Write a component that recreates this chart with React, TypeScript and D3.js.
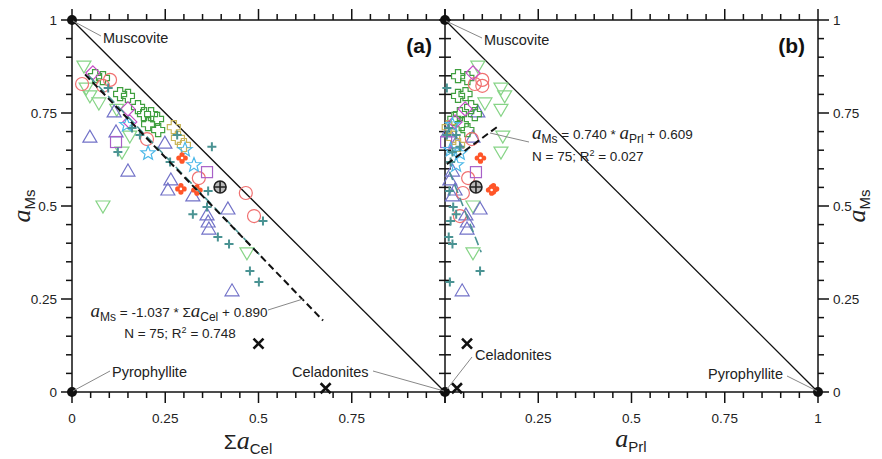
import React from "react";
import * as d3 from "d3";

// ---- data: [ΣaCel, aPrl, aMs] ----
const greenTri: number[][] = [
  [0.032, 0.088, 0.876], [0.038, 0.15, 0.817], [0.072, 0.107, 0.777], [0.048, 0.16, 0.796],
  [0.134, 0.15, 0.645], [0.155, 0.155, 0.688], [0.083, 0.075, 0.5], [0.469, 0.075, 0.374],
  [0.12, 0.15, 0.76],
];
const redCircle: number[][] = [
  [0.027, 0.08, 0.828], [0.083, 0.1, 0.823], [0.102, 0.1, 0.839], [0.201, 0.072, 0.68],
  [0.34, 0.062, 0.575], [0.466, 0.048, 0.535], [0.488, 0.04, 0.473],
];
const purpleSquare: number[][] = [[0.118, 0.003, 0.672], [0.362, 0.083, 0.591]];
const magentaDiamond: number[][] = [[0.056, 0.075, 0.858], [0.15, 0.054, 0.761], [0.155, 0.027, 0.726]];
const greenCross: number[][] = [
  [0.062, 0.035, 0.849], [0.083, 0.06, 0.844], [0.129, 0.055, 0.801], [0.15, 0.035, 0.796],
  [0.177, 0.07, 0.766], [0.193, 0.04, 0.747], [0.212, 0.08, 0.747], [0.228, 0.025, 0.734],
  [0.204, 0.045, 0.72], [0.231, 0.06, 0.704],
];
const blueTri: number[][] = [
  [0.048, 0.075, 0.685], [0.113, 0.088, 0.753], [0.118, 0.008, 0.699], [0.249, 0.03, 0.669],
  [0.15, 0.02, 0.594], [0.265, 0.013, 0.57], [0.257, 0.027, 0.543], [0.324, 0.02, 0.527],
  [0.418, 0.094, 0.492], [0.362, 0.056, 0.476], [0.365, 0.06, 0.457], [0.367, 0.059, 0.438],
  [0.429, 0.046, 0.272],
];
const cyanStar: number[][] = [[0.147, 0.02, 0.718], [0.204, 0.04, 0.642], [0.303, 0.015, 0.651], [0.327, 0.03, 0.61]];
const khakiCross: number[][] = [[0.273, 0.01, 0.712], [0.284, 0.022, 0.683], [0.3, 0.035, 0.664]];
const tealPlus: number[][] = [
  [0.097, 0.005, 0.817], [0.161, 0.01, 0.71], [0.123, 0.02, 0.645], [0.182, 0.03, 0.691],
  [0.282, 0.005, 0.691], [0.263, 0.015, 0.618], [0.375, 0.04, 0.659], [0.365, 0.012, 0.54],
  [0.362, 0.022, 0.497], [0.324, 0.03, 0.478], [0.512, 0.015, 0.46], [0.391, 0.01, 0.417],
  [0.421, 0.02, 0.398], [0.477, 0.094, 0.325], [0.501, 0.013, 0.296],
];
const orangeFlower: number[][] = [[0.295, 0.095, 0.629], [0.292, 0.13, 0.546], [0.335, 0.125, 0.543]];
const blackOplus: number[][] = [[0.397, 0.083, 0.551]];
const celadonites: number[][] = [[0.5, 0.059, 0.13], [0.68, 0.032, 0.01]];

const majorTicks = [0, 0.25, 0.5, 0.75, 1];
const minorTicks = d3.range(0, 21).map((i) => i * 0.05);
const yTickLabels = ["0", "0.25", "0.5", "0.75", "1"];
const xTickLabelsA = ["0", "0.25", "0.5", "0.75"];
const xTickLabelsB = ["0.25", "0.5", "0.75", "1"];

// regression: aMs = slope * x + intercept, drawn on [x0, x1]
const regA = { slope: -1.037, intercept: 0.89, x0: 0.035, x1: 0.673 };
const regB = { slope: 0.74, intercept: 0.609, x0: 0.005, x1: 0.14 };
const tealRegA = { slope: -1.05, intercept: 0.897, x0: 0.045, x1: 0.51 };
const tealRegB = { slope: -2.55, intercept: 0.623, x0: 0.012, x1: 0.097 };

const xA = d3.scaleLinear().domain([0, 1]).range([72, 445]);
const xB = d3.scaleLinear().domain([0, 1]).range([445, 818]);
const y = d3.scaleLinear().domain([0, 1]).range([392, 20]);

const SANS = "'Liberation Sans', Arial, Helvetica, sans-serif";
const SERIF = "'Liberation Serif', 'DejaVu Serif', serif";

type Shape = "triDown" | "circle" | "square" | "diamond" | "cross" | "triUp" | "star" | "plus" | "flower" | "oplus" | "x";

function starPath(ro: number, ri: number) {
  const pts: string[] = [];
  for (let i = 0; i < 10; i++) {
    const r = i % 2 === 0 ? ro : ri;
    const a = -Math.PI / 2 + (i * Math.PI) / 5;
    pts.push(`${(r * Math.cos(a)).toFixed(2)},${(r * Math.sin(a)).toFixed(2)}`);
  }
  return "M" + pts.join("L") + "Z";
}
const crossPath = (() => {
  const a = 2.6, b = 6.5;
  return `M${-a},${-b}H${a}V${-a}H${b}V${a}H${a}V${b}H${-a}V${a}H${-b}V${-a}H${-a}Z`;
})();

function Marker({ shape, cx, cy, color }: { shape: Shape; cx: number; cy: number; color: string }) {
  const t = `translate(${cx},${cy})`;
  const common = { fill: "none", stroke: color, strokeWidth: 1.2 };
  switch (shape) {
    case "triDown":
      return <path transform={t} d="M-7,-5L7,-5L0,7Z" {...common} />;
    case "triUp":
      return <path transform={t} d="M-7,5L7,5L0,-7Z" {...common} />;
    case "circle":
      return <circle cx={cx} cy={cy} r={6.5} {...common} />;
    case "square":
      return <rect x={cx - 5.5} y={cy - 5.5} width={11} height={11} {...common} />;
    case "diamond":
      return <path transform={t} d="M0,-7L7,0L0,7L-7,0Z" {...common} />;
    case "cross":
      return <path transform={t} d={crossPath} {...common} />;
    case "star":
      return <path transform={t} d={starPath(7.5, 3.2)} {...common} />;
    case "plus":
      return <path transform={t} d="M-4.5,0H4.5M0,-4.5V4.5" stroke={color} strokeWidth={2} fill="none" />;
    case "flower":
      return (
        <g transform={t} fill={color}>
          <circle cx={0} cy={-3.2} r={2.6} />
          <circle cx={0} cy={3.2} r={2.6} />
          <circle cx={-3.2} cy={0} r={2.6} />
          <circle cx={3.2} cy={0} r={2.6} />
          <circle cx={0} cy={0} r={1.3} fill="#fff" />
        </g>
      );
    case "oplus":
      return (
        <g transform={t} stroke={color} strokeWidth={1.6} fill="#bbb">
          <circle r={6} />
          <path d="M-6,0H6M0,-6V6" fill="none" />
        </g>
      );
    case "x":
      return <path transform={t} d="M-5,-5L5,5M5,-5L-5,5" stroke={color} strokeWidth={2.6} fill="none" />;
  }
  return null;
}

const groups: { data: number[][]; shape: Shape; color: string }[] = [
  { data: greenTri, shape: "triDown", color: "#86d486" },
  { data: blueTri, shape: "triUp", color: "#7272c8" },
  { data: greenCross, shape: "cross", color: "#3f9f3f" },
  { data: khakiCross, shape: "cross", color: "#c9b55a" },
  { data: redCircle, shape: "circle", color: "#f07070" },
  { data: purpleSquare, shape: "square", color: "#a860c8" },
  { data: magentaDiamond, shape: "diamond", color: "#c64cc6" },
  { data: cyanStar, shape: "star", color: "#4cb8e8" },
  { data: tealPlus, shape: "plus", color: "#4a9393" },
  { data: orangeFlower, shape: "flower", color: "#ff5528" },
  { data: blackOplus, shape: "oplus", color: "#222" },
  { data: celadonites, shape: "x", color: "#111" },
];

// italic serif symbol followed by sans subscript; returns tspans, the caller's next tspan restores baseline via dy
function symSub(main: string, sub: string, size: number, subSize: number, dyIn = 0) {
  const shift = subSize * 0.35;
  return [
    <tspan key="m" dy={dyIn} fontFamily={SERIF} fontStyle="italic" fontSize={size}>{main}</tspan>,
    <tspan key="s" fontFamily={SANS} fontSize={subSize} dy={shift}>{sub}</tspan>,
  ];
}

function regLine(r: any, xs: any) {
  return [
    [xs(r.x0), y(r.slope * r.x0 + r.intercept)],
    [xs(r.x1), y(r.slope * r.x1 + r.intercept)],
  ];
}

export default function App() {
  const line = d3.line();
  const tickColor = "#111";
  const axisEls: React.ReactNode[] = [];
  [xA, xB].forEach((xs, pi) => {
    minorTicks.forEach((v, i) => {
      const major = majorTicks.some((m) => Math.abs(m - v) < 1e-9);
      const len = major ? 11 : 6;
      const px = xs(v);
      axisEls.push(<line key={`b${pi}-${i}`} x1={px} x2={px} y1={392} y2={392 + len} stroke={tickColor} strokeWidth={1.5} />);
      axisEls.push(<line key={`t${pi}-${i}`} x1={px} x2={px} y1={20} y2={20 - len} stroke={tickColor} strokeWidth={1.5} />);
    });
  });
  minorTicks.forEach((v, i) => {
    const major = majorTicks.some((m) => Math.abs(m - v) < 1e-9);
    const len = major ? 11 : 6;
    const py = y(v);
    axisEls.push(<line key={`l${i}`} x1={72 - len} x2={72} y1={py} y2={py} stroke={tickColor} strokeWidth={1.5} />);
    axisEls.push(<line key={`r${i}`} x1={818} x2={818 + len} y1={py} y2={py} stroke={tickColor} strokeWidth={1.5} />);
    axisEls.push(<line key={`m${i}`} x1={445 - 6} x2={445 + 6} y1={py} y2={py} stroke={tickColor} strokeWidth={1.5} />);
  });

  const lbl = { fontFamily: SANS, fontSize: 13.5, fill: "#222" };
  const ann = { fontFamily: SANS, fontSize: 14.5, fill: "#222" };
  const eq = { fontFamily: SANS, fontSize: 13.5, fill: "#222" };
  const leader = { stroke: "#888", strokeWidth: 1, fill: "none" };
  const eqShift = 12 * 0.35;

  return (
    <svg width={882} height={459} style={{ position: "absolute", left: 0, top: 0, background: "#fff" }}>
      <rect x={72} y={20} width={746} height={372} fill="none" stroke="#111" strokeWidth={1.5} />
      <line x1={445} x2={445} y1={20} y2={392} stroke="#111" strokeWidth={1.5} />
      {axisEls}
      <line x1={xA(0)} y1={y(1)} x2={xA(1)} y2={y(0)} stroke="#111" strokeWidth={1.3} />
      <line x1={xB(0)} y1={y(1)} x2={xB(1)} y2={y(0)} stroke="#111" strokeWidth={1.3} />

      {majorTicks.map((v, i) => (
        <text key={`yl${i}`} x={57} y={y(v) + 5} textAnchor="end" {...lbl}>{yTickLabels[i]}</text>
      ))}
      {majorTicks.map((v, i) => (
        <text key={`yr${i}`} x={833} y={y(v) + 5} textAnchor="start" {...lbl}>{yTickLabels[i]}</text>
      ))}
      {xTickLabelsA.map((t, i) => (
        <text key={`xa${i}`} x={xA(majorTicks[i])} y={423} textAnchor="middle" {...lbl}>{t}</text>
      ))}
      {xTickLabelsB.map((t, i) => (
        <text key={`xb${i}`} x={xB(majorTicks[i + 1])} y={423} textAnchor="middle" {...lbl}>{t}</text>
      ))}

      {/* axis titles */}
      <text transform="translate(30,206) rotate(-90)" textAnchor="middle" fill="#222">
        {symSub("a", "Ms", 26, 15)}
      </text>
      <text transform="translate(865,206) rotate(-90)" textAnchor="middle" fill="#222">
        {symSub("a", "Ms", 26, 15)}
      </text>
      <text x={248} y={449} textAnchor="middle" fill="#222">
        <tspan fontFamily={SANS} fontSize={21}>Σ</tspan>
        {symSub("a", "Cel", 26, 15)}
      </text>
      <text x={631} y={447} textAnchor="middle" fill="#222">
        {symSub("a", "Prl", 26, 15)}
      </text>

      <text x={432} y={53} textAnchor="end" fontFamily={SANS} fontWeight="bold" fontSize={21} fill="#111">(a)</text>
      <text x={805} y={53} textAnchor="end" fontFamily={SANS} fontWeight="bold" fontSize={21} fill="#111">(b)</text>

      {groups.map((g, gi) =>
        g.data.map((d, i) => (
          <g key={`${gi}-${i}`}>
            <Marker shape={g.shape} cx={xA(d[0])} cy={y(d[2])} color={g.color} />
            <Marker shape={g.shape} cx={xB(d[1])} cy={y(d[2])} color={g.color} />
          </g>
        ))
      )}

      <path d={line(regLine(tealRegA, xA) as any) || ""} stroke="#4a9393" strokeWidth={1.6} strokeDasharray="9,5" fill="none" />
      <path d={line(regLine(tealRegB, xB) as any) || ""} stroke="#4a9393" strokeWidth={1.6} strokeDasharray="9,5" fill="none" />
      <path d={line(regLine(regA, xA) as any) || ""} stroke="#111" strokeWidth={2} strokeDasharray="7,4" fill="none" />
      <path d={line(regLine(regB, xB) as any) || ""} stroke="#111" strokeWidth={2} strokeDasharray="7,4" fill="none" />

      {[[xA(0), y(1)], [xA(0), y(0)], [xB(0), y(1)], [xB(0), y(0)], [xB(1), y(0)]].map((p, i) => (
        <circle key={`em${i}`} cx={p[0]} cy={p[1]} r={5} fill="#111" />
      ))}

      {/* annotations panel a */}
      <line x1={73} y1={21} x2={101} y2={36} {...leader} />
      <text x={103} y={43} {...ann}>Muscovite</text>
      <line x1={73} y1={391} x2={110} y2={371} {...leader} />
      <text x={112} y={377} {...ann}>Pyrophyllite</text>
      <line x1={373} y1={371} x2={444} y2={391} {...leader} />
      <text x={292} y={377} {...ann}>Celadonites</text>
      <line x1={268} y1={310} x2={303} y2={299} {...leader} />
      <text x={179} y={317} textAnchor="middle" {...eq}>
        {symSub("a", "Ms", 19, 12)}
        <tspan dy={-eqShift}> = -1.037 * Σ</tspan>
        {symSub("a", "Cel", 19, 12)}
        <tspan dy={-eqShift}> + 0.890</tspan>
      </text>
      <text x={180} y={338} textAnchor="middle" {...eq}>
        N = 75; R<tspan fontSize={9} dy={-5}>2</tspan><tspan dy={5}> = 0.748</tspan>
      </text>

      {/* annotations panel b */}
      <line x1={446} y1={21} x2={482} y2={38} {...leader} />
      <text x={484} y={45} {...ann}>Muscovite</text>
      <line x1={447} y1={389} x2={472} y2={357} {...leader} />
      <text x={475} y={360} {...ann}>Celadonites</text>
      <line x1={787} y1={376} x2={817} y2={391} {...leader} />
      <text x={708} y={379} {...ann}>Pyrophyllite</text>
      <line x1={490} y1={133} x2={529} y2={142} {...leader} />
      <text x={532} y={139} {...eq}>
        {symSub("a", "Ms", 19, 12)}
        <tspan dy={-eqShift}> = 0.740 * </tspan>
        {symSub("a", "Prl", 19, 12)}
        <tspan dy={-eqShift}> + 0.609</tspan>
      </text>
      <text x={532} y={161} {...eq}>
        N = 75; R<tspan fontSize={9} dy={-5}>2</tspan><tspan dy={5}> = 0.027</tspan>
      </text>
    </svg>
  );
}
